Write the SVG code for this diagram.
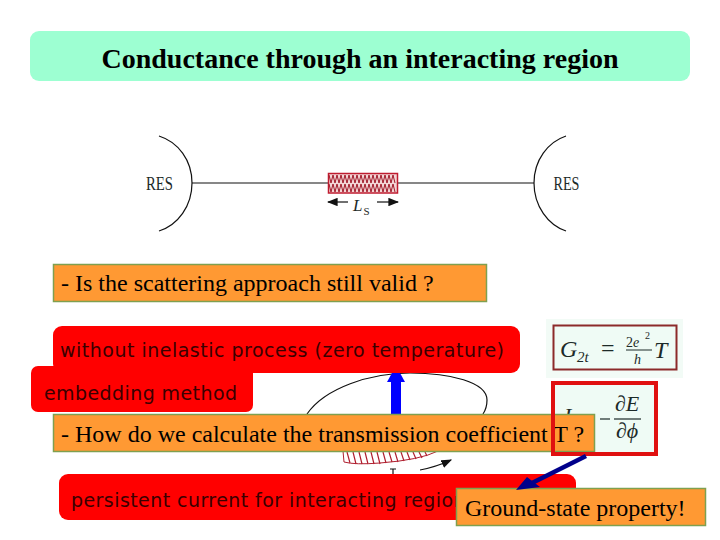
<svg xmlns="http://www.w3.org/2000/svg" width="720" height="540" viewBox="0 0 720 540">
<style>
.t{font-family:"Liberation Serif",serif;fill:#000}
.s{font-family:"DejaVu Sans",sans-serif;font-size:19px;fill:#3a0000}
.o{fill:#ff9933;stroke:#7fa050;stroke-width:1.5}
.r{fill:#ff0000}
.l{fill:none;stroke:#111;stroke-width:1.2}
.m{font-family:"Liberation Serif",serif;fill:#1c2a28}
</style>
<defs>
<marker id="a" markerWidth="9" markerHeight="7" refX="8" refY="3.5" orient="auto"><path d="M0 0L9 3.5L0 7z" fill="#111"/></marker>
</defs>
<rect width="720" height="540" fill="#fff"/>
<g id="title"><rect x="30" y="31" width="660" height="50" rx="9" fill="#9dffd2"/><text class="t" x="360" y="68" font-size="28" font-weight="bold" text-anchor="middle">Conductance through an interacting region</text></g>
<g id="device">
<path class="l" d="M159 136C178 142 192 160 192 183C192 206 178 225 159 231M566 136C548 142 534 160 534 183C534 206 548 225 566 231"/>
<path class="l" d="M192 183H328M398 183H534"/>
<text class="m" x="159.500" y="190" font-size="18" text-anchor="middle" textLength="27" lengthAdjust="spacingAndGlyphs">RES</text>
<text class="m" x="566.500" y="190" font-size="18" text-anchor="middle" textLength="26" lengthAdjust="spacingAndGlyphs">RES</text>
<rect x="328.500" y="173.500" width="69" height="19.500" fill="#f3d5d5" stroke="#c01c30" stroke-width="1.500"/>
<path fill="none" stroke="#a01828" stroke-width="1" d="M329 175l2 8l2-8l2 8l2-8l2 8l2-8l2 8l2-8l2 8l2-8l2 8l2-8l2 8l2-8l2 8l2-8l2 8l2-8l2 8l2-8l2 8l2-8l2 8l2-8l2 8l2-8l2 8l2-8l2 8l2-8l2 8l2-8l2 8M329 184l2 8l2-8l2 8l2-8l2 8l2-8l2 8l2-8l2 8l2-8l2 8l2-8l2 8l2-8l2 8l2-8l2 8l2-8l2 8l2-8l2 8l2-8l2 8l2-8l2 8l2-8l2 8l2-8l2 8l2-8l2 8l2-8l2 8"/>
<path class="l" marker-end="url(#a)" d="M348 202H328"/><path class="l" marker-end="url(#a)" d="M377 202H398"/>
<text class="m" x="353" y="211" font-size="17" font-style="italic">L</text><text class="m" x="363.500" y="215" font-size="11">S</text>
</g>
<g id="ring">
<path class="l" d="M307 414C325 388 370 373 410 373C450 373 487 382 487 400Q487 408 483 414"/>
<rect x="391" y="376" width="10" height="40" fill="#0000ff"/><path d="M387 382L392 373H400L405 382z" fill="#0000ff"/>
<path d="M343 451H438Q420 460 380 463Q355 465 344 462z" fill="#fff" stroke="#b02030"/>
<path fill="none" stroke="#b02030" stroke-width="1.200" d="M347 452l3 11M353 452l3 12M359 452l3 12M365 452l3 12M371 452l3 12M377 452l3 12M383 452l3 11M389 452l3 10M395 452l3 10M401 452l3 9M407 452l3 8M413 452l3 7M419 452l3 6M425 452l2 4"/>
<path class="l" stroke-width="1.500" marker-end="url(#a)" d="M420 470Q436 467 451 460"/>
<path class="l" d="M393 469V475M390 469H396"/>
</g>
<g id="formulas">
<rect x="546" y="319" width="137" height="59" fill="#f2fbf6"/>
<rect x="553.500" y="325.500" width="123" height="44" fill="#effbf5" stroke="#8c2a2a" stroke-width="2"/>
<text class="m" x="560" y="357" font-size="24" font-style="italic">G</text><text class="m" x="577" y="362" font-size="15" font-style="italic">2t</text><text class="m" x="601" y="356" font-size="24">=</text>
<text class="m" x="626" y="347" font-size="14">2<tspan font-style="italic">e</tspan></text><text class="m" x="645" y="339" font-size="10">2</text><path d="M626 350H652" stroke="#1c2a28" stroke-width="1"/><text class="m" x="634" y="364" font-size="14" font-style="italic">h</text><text class="m" x="654" y="358" font-size="24" font-style="italic">T</text>
<rect x="555" y="385" width="100" height="68" fill="#effbf5"/>
<text class="m" x="564" y="423" font-size="22" font-style="italic">I</text>
<path d="M600 419H610" stroke="#1c2a28" stroke-width="1.200"/>
<text class="m" x="615" y="411" font-size="22" font-style="italic">∂E</text><path d="M614 419H641" stroke="#1c2a28" stroke-width="1.200"/><text class="m" x="616" y="438" font-size="22" font-style="italic">∂ϕ</text>
</g>
<g id="without"><rect class="r" x="53" y="326" width="467" height="47" rx="9"/><text class="s" x="60" y="357" textLength="444">without inelastic process (zero temperature)</text></g>
<g id="embedding"><rect class="r" x="31" y="366" width="222" height="46" rx="7"/><text class="s" x="44" y="400" textLength="193">embedding method</text></g>
<g id="persistent"><rect class="r" x="59" y="474" width="517" height="46" rx="9"/><text class="s" x="71" y="507" textLength="405">persistent current for interacting regions</text></g>
<g id="q1"><rect class="o" x="53.500" y="264.500" width="433" height="37"/><text class="t" x="61" y="291" font-size="24">- Is the scattering approach still valid ?</text></g>
<g id="q2"><rect class="o" x="53.500" y="414.500" width="541" height="37"/><text class="t" x="61" y="442" font-size="24">- How do we calculate the transmission coefficient T ?</text></g>
<g id="q3"><rect class="o" x="456.500" y="488.500" width="249" height="37"/><text class="t" x="465" y="516" font-size="24">Ground-state property!</text></g>
<g id="connectors">
<rect x="553" y="383" width="103" height="71" fill="none" stroke="#e01010" stroke-width="4"/>
<path d="M586 456L532 483" stroke="#00008b" stroke-width="4.500" fill="none"/>
<path d="M516 490L527 477L540 487z" fill="#00008b"/>
</g>
</svg>
